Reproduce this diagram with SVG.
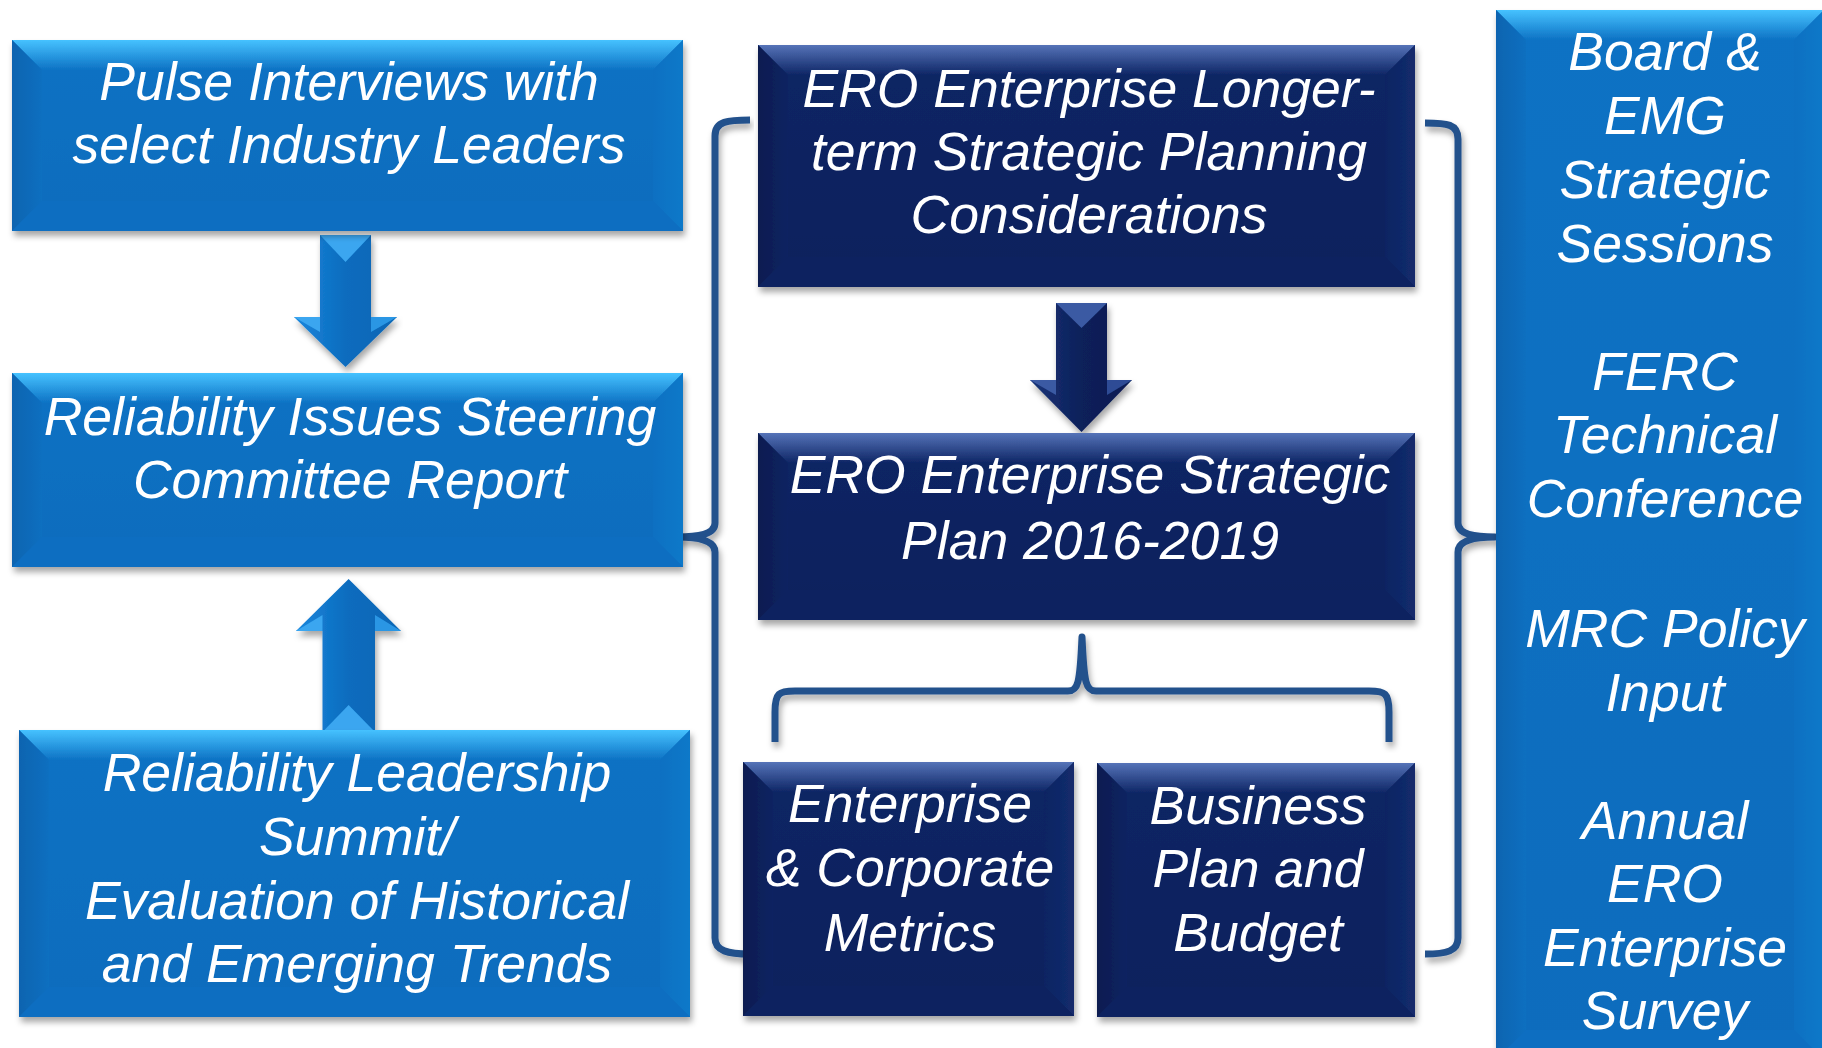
<svg xmlns="http://www.w3.org/2000/svg" width="1822" height="1048" viewBox="0 0 1822 1048">
<defs>
<style>
.t{font-family:"Liberation Sans",Arial,sans-serif;font-style:italic;font-size:53.5px;fill:#ffffff;text-anchor:middle}
.br{fill:none;stroke:#24518c;stroke-width:7;stroke-linecap:butt;stroke-linejoin:round}
.lb{fill:url(#lbody)}
.lt{fill:url(#ltop)}
.ll{fill:url(#lleft)}
.lr{fill:url(#lright)}
.lbt{fill:#0b6ec1}
.db{fill:url(#dbody)}
.dt{fill:url(#dtop)}
.dl{fill:url(#dleft)}
.dr{fill:url(#dright)}
.dbt{fill:#0c2260}
</style>
<linearGradient id="lbody" x1="0" y1="0" x2="0" y2="1"><stop offset="0" stop-color="#0d72c4"/><stop offset="1" stop-color="#0a6cbd"/></linearGradient>
<linearGradient id="ltop" x1="0" y1="0" x2="0" y2="1"><stop offset="0" stop-color="#46c2ff"/><stop offset="1" stop-color="#0d72c4"/></linearGradient>
<linearGradient id="lleft" x1="0" y1="0" x2="1" y2="0"><stop offset="0" stop-color="#0a64b0"/><stop offset="1" stop-color="#0c6fc0"/></linearGradient>
<linearGradient id="lright" x1="0" y1="0" x2="1" y2="0"><stop offset="0" stop-color="#0c70c2"/><stop offset="1" stop-color="#1079c9"/></linearGradient>
<linearGradient id="dbody" x1="0" y1="0" x2="0" y2="1"><stop offset="0" stop-color="#0e2665"/><stop offset="1" stop-color="#0b205c"/></linearGradient>
<linearGradient id="dtop" x1="0" y1="0" x2="0" y2="1"><stop offset="0" stop-color="#5573b8"/><stop offset="1" stop-color="#0e2665"/></linearGradient>
<linearGradient id="dleft" x1="0" y1="0" x2="1" y2="0"><stop offset="0" stop-color="#091b50"/><stop offset="1" stop-color="#0d2462"/></linearGradient>
<linearGradient id="dright" x1="0" y1="0" x2="1" y2="0"><stop offset="0" stop-color="#0d2463"/><stop offset="1" stop-color="#132c6c"/></linearGradient>
<linearGradient id="larrow" x1="0" y1="0" x2="1" y2="0"><stop offset="0" stop-color="#1a86dc"/><stop offset="0.5" stop-color="#0b6cbe"/><stop offset="1" stop-color="#0a66b5"/></linearGradient>
<linearGradient id="darrow" x1="0" y1="0" x2="1" y2="0"><stop offset="0" stop-color="#1a3478"/><stop offset="0.5" stop-color="#0c205a"/><stop offset="1" stop-color="#0a1c52"/></linearGradient>
<filter id="sh" x="-5%" y="-5%" width="110%" height="115%"><feDropShadow dx="2" dy="5" stdDeviation="3" flood-color="#000" flood-opacity="0.35"/></filter>
</defs>
<rect width="1822" height="1048" fill="#ffffff"/>

<g id="connectors">
<g id="arrow-pulse-to-riscr" filter="url(#sh)">
<polygon points="320,235 371,235 371,317 397,317 345.5,367 294,317 320,317" fill="url(#larrow)"/>
<polygon points="320,235 371,235 345.5,262" fill="#3aa6f0"/>
<polygon points="294,317 320,317 320,332" fill="#3aa6f0"/>
<polygon points="371,317 397,317 371,332" fill="#2b96e4"/>
</g>
<g id="arrow-summit-to-riscr" filter="url(#sh)">
<polygon points="348.6,579 401,631 375,631 375,732 322.5,732 322.5,631 296,631" fill="url(#larrow)"/>
<polygon points="322.5,732 375,732 348.6,705" fill="#3aa6f0"/>
<polygon points="296,631 322.5,631 322.5,615" fill="#3aa6f0"/>
<polygon points="401,631 375,631 375,615" fill="#2b96e4"/>
</g>
<g id="arrow-longterm-to-plan" filter="url(#sh)">
<polygon points="1056,303 1107,303 1107,380 1132,380 1081.5,432 1030,380 1056,380" fill="url(#darrow)"/>
<polygon points="1056,303 1107,303 1081.5,328" fill="#3b5aa3"/>
<polygon points="1030,380 1056,380 1056,395" fill="#3b5aa3"/>
<polygon points="1107,380 1132,380 1107,395" fill="#2e4c95"/>
</g>
<path id="bracket-left" class="br" filter="url(#sh)" d="M750,120 C728,120 715,121 715,136 L715,523 C715,534 700,537 677,537 C700,537 715,541 715,552 L715,938 C715,951 728,954 750,954"/>
<path id="bracket-right" class="br" filter="url(#sh)" d="M1425,123 C1447,123 1458,124 1458,139 L1458,523 C1458,534 1473,537 1495,537 C1473,537 1458,541 1458,552 L1458,938 C1458,951 1447,954 1425,954"/>
<path id="brace-plan" class="br" filter="url(#sh)" d="M775,742 L775,712 C775,693 779,691 795,691 L1068,691 C1078,691 1080,684 1082,637 C1084,684 1086,691 1096,691 L1369,691 C1385,691 1389,693 1389,712 L1389,742"/>
</g>

<g id="node-pulse" filter="url(#sh)">
<rect class="lb" x="12" y="40" width="671" height="191"/>
<polygon class="lt" points="12,40 683,40 653,70 42,70"/>
<polygon class="ll" points="12,40 42,70 42,201 12,231"/>
<polygon class="lr" points="683,40 653,70 653,201 683,231"/>
<polygon class="lbt" points="12,231 42,201 653,201 683,231"/>
<text class="t" x="349" y="100">Pulse Interviews with</text>
<text class="t" x="349" y="163">select Industry Leaders</text>
</g>

<g id="node-riscr" filter="url(#sh)">
<rect class="lb" x="12" y="373" width="671" height="194"/>
<polygon class="lt" points="12,373 683,373 653,403 42,403"/>
<polygon class="ll" points="12,373 42,403 42,537 12,567"/>
<polygon class="lr" points="683,373 653,403 653,537 683,567"/>
<polygon class="lbt" points="12,567 42,537 653,537 683,567"/>
<text class="t" x="350" y="435">Reliability Issues Steering</text>
<text class="t" x="350" y="498">Committee Report</text>
</g>

<g id="node-summit" filter="url(#sh)">
<rect class="lb" x="19" y="730" width="671" height="287"/>
<polygon class="lt" points="19,730 690,730 660,760 49,760"/>
<polygon class="ll" points="19,730 49,760 49,987 19,1017"/>
<polygon class="lr" points="690,730 660,760 660,987 690,1017"/>
<polygon class="lbt" points="19,1017 49,987 660,987 690,1017"/>
<text class="t" x="357" y="791">Reliability Leadership</text>
<text class="t" x="357" y="855">Summit/</text>
<text class="t" x="357" y="919">Evaluation of Historical</text>
<text class="t" x="357" y="982">and Emerging Trends</text>
</g>

<g id="node-longterm" filter="url(#sh)">
<rect class="db" x="758" y="45" width="657" height="242"/>
<polygon class="dt" points="758,45 1415,45 1385,75 788,75"/>
<polygon class="dl" points="758,45 788,75 788,257 758,287"/>
<polygon class="dr" points="1415,45 1385,75 1385,257 1415,287"/>
<polygon class="dbt" points="758,287 788,257 1385,257 1415,287"/>
<text class="t" x="1089" y="107">ERO Enterprise Longer-</text>
<text class="t" x="1089" y="170">term Strategic Planning</text>
<text class="t" x="1089" y="233">Considerations</text>
</g>

<g id="node-plan" filter="url(#sh)">
<rect class="db" x="758" y="433" width="657" height="187"/>
<polygon class="dt" points="758,433 1415,433 1385,463 788,463"/>
<polygon class="dl" points="758,433 788,463 788,590 758,620"/>
<polygon class="dr" points="1415,433 1385,463 1385,590 1415,620"/>
<polygon class="dbt" points="758,620 788,590 1385,590 1415,620"/>
<text class="t" x="1090" y="493">ERO Enterprise Strategic</text>
<text class="t" x="1090" y="559">Plan 2016-2019</text>
</g>

<g id="node-metrics" filter="url(#sh)">
<rect class="db" x="743" y="762" width="331" height="254"/>
<polygon class="dt" points="743,762 1074,762 1044,792 773,792"/>
<polygon class="dl" points="743,762 773,792 773,986 743,1016"/>
<polygon class="dr" points="1074,762 1044,792 1044,986 1074,1016"/>
<polygon class="dbt" points="743,1016 773,986 1044,986 1074,1016"/>
<text class="t" x="910" y="822">Enterprise</text>
<text class="t" x="910" y="886">&amp; Corporate</text>
<text class="t" x="910" y="951">Metrics</text>
</g>

<g id="node-budget" filter="url(#sh)">
<rect class="db" x="1097" y="763" width="318" height="254"/>
<polygon class="dt" points="1097,763 1415,763 1385,793 1127,793"/>
<polygon class="dl" points="1097,763 1127,793 1127,987 1097,1017"/>
<polygon class="dr" points="1415,763 1385,793 1385,987 1415,1017"/>
<polygon class="dbt" points="1097,1017 1127,987 1385,987 1415,1017"/>
<text class="t" x="1258" y="824">Business</text>
<text class="t" x="1258" y="887">Plan and</text>
<text class="t" x="1258" y="951">Budget</text>
</g>

<g id="node-inputs" filter="url(#sh)">
<rect class="lb" x="1496" y="10" width="328" height="1050"/>
<polygon class="lt" points="1496,10 1824,10 1794,40 1526,40"/>
<polygon class="ll" points="1496,10 1526,40 1526,1030 1496,1060"/>
<polygon class="lr" points="1824,10 1794,40 1794,1030 1824,1060"/>
<polygon class="lbt" points="1496,1060 1526,1030 1794,1030 1824,1060"/>
<text class="t" x="1665" y="70">Board &amp;</text>
<text class="t" x="1665" y="134">EMG</text>
<text class="t" x="1665" y="198">Strategic</text>
<text class="t" x="1665" y="262">Sessions</text>
<text class="t" x="1665" y="390">FERC</text>
<text class="t" x="1665" y="453">Technical</text>
<text class="t" x="1665" y="517">Conference</text>
<text class="t" x="1665" y="647">MRC Policy</text>
<text class="t" x="1665" y="711">Input</text>
<text class="t" x="1665" y="839">Annual</text>
<text class="t" x="1665" y="902">ERO</text>
<text class="t" x="1665" y="966">Enterprise</text>
<text class="t" x="1665" y="1029">Survey</text>
</g>
</svg>
